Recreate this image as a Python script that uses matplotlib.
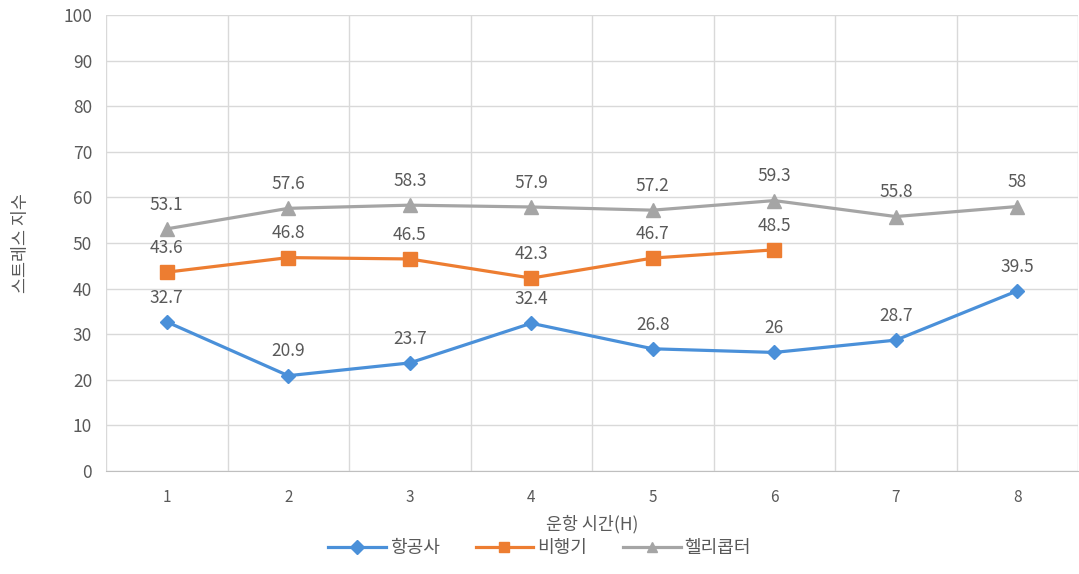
import matplotlib
matplotlib.use("Agg")
import matplotlib.pyplot as plt
import numpy as np

plt.rcParams['font.family'] = ['Noto Sans CJK KR', 'DejaVu Sans']

hours = [1, 2, 3, 4, 5, 6, 7, 8]
airline = [32.7, 20.9, 23.7, 32.4, 26.8, 26.0, 28.7, 39.5]
airplane = [43.6, 46.8, 46.5, 42.3, 46.7, 48.5]
helicopter = [53.1, 57.6, 58.3, 57.9, 57.2, 59.3, 55.8, 58.0]
series_names = ['항공사', '비행기', '헬리콥터']
xlabel = '운항 시간(H)'
ylabel = '스트레스 지수'

colors = ['#4A90D9', '#ED7D31', '#A5A5A5']
text_color = '#595959'
grid_color = '#D9D9D9'

fig = plt.figure(figsize=(10.79, 5.74), dpi=100)
ax = fig.add_axes([106/1079, 1-471/574, 972/1079, (471-15)/574])

ax.plot(hours, airline, color=colors[0], lw=2.3, marker='D', ms=7,
        label=series_names[0], zorder=3)
ax.plot(hours[:len(airplane)], airplane, color=colors[1], lw=2.3, marker='s', ms=10,
        label=series_names[1], zorder=3)
ax.plot(hours, helicopter, color=colors[2], lw=2.3, marker='^', ms=10,
        label=series_names[2], zorder=3)

def fmt(v):
    return str(int(v)) if float(v).is_integer() else f'{v}'

for series in (airline, airplane, helicopter):
    for x, v in zip(hours, series):
        ax.annotate(fmt(v), (x, v), xytext=(0, 11), textcoords='offset points',
                    ha='center', va='bottom', fontsize=12.5, color=text_color)

ax.set_xlim(0.5, 8.5)
ax.set_ylim(0, 100)
ax.set_yticks(np.arange(0, 101, 10))
ax.set_xticks(hours)
ax.set_xticks(np.arange(0.5, 8.6, 1), minor=True)
ax.grid(True, which='major', axis='y', color=grid_color, lw=1)
ax.grid(True, which='minor', axis='x', color=grid_color, lw=1)
ax.set_axisbelow(True)
for s in ['top', 'right', 'left']:
    ax.spines[s].set_visible(False)
ax.spines['bottom'].set_color('#BFBFBF')
ax.tick_params(axis='both', which='both', length=0, colors=text_color)
ax.tick_params(axis='y', labelsize=12.5, pad=10)
ax.tick_params(axis='x', labelsize=11, pad=13)

ax.set_xlabel(xlabel, fontsize=12.5, color=text_color, labelpad=6)
ax.set_ylabel(ylabel, fontsize=12.5, color=text_color, labelpad=24)

leg = fig.legend(loc='center', bbox_to_anchor=(0.5, 1-548/574), ncol=3, frameon=False,
                 fontsize=13, handlelength=3.2, columnspacing=2.0, handletextpad=0.2)
for t in leg.get_texts():
    t.set_color(text_color)
for h in leg.legend_handles:
    h.set_markersize(7)

fig.savefig('out.png', dpi=100)
